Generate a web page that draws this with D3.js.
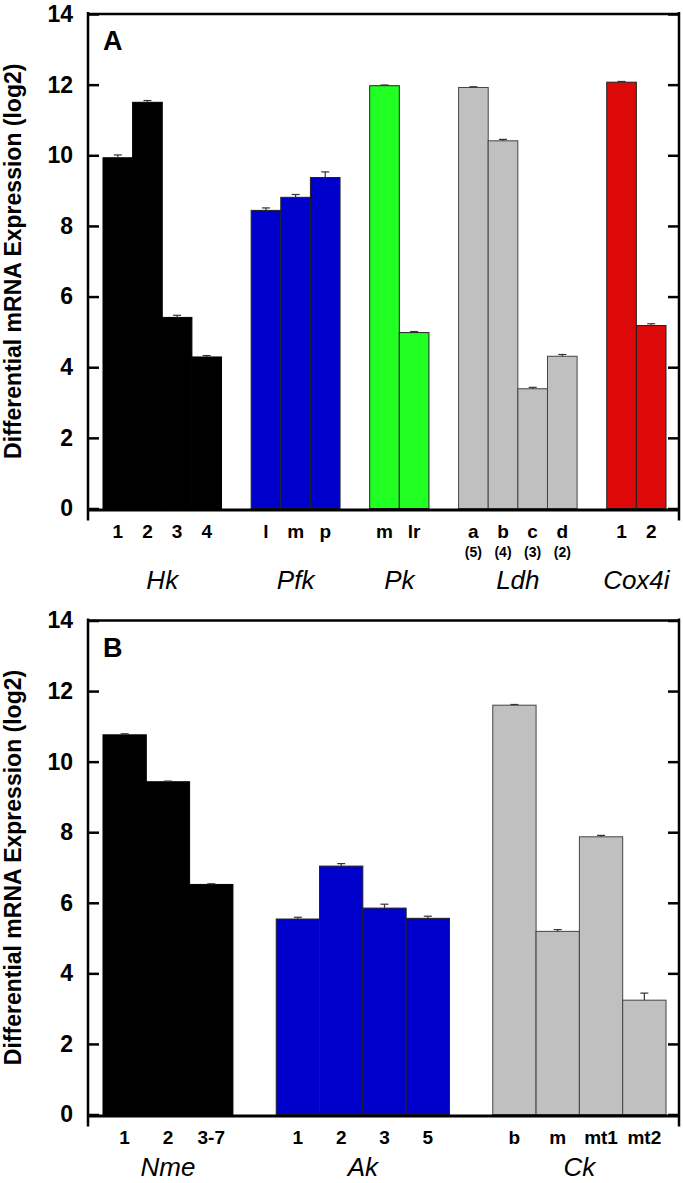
<!DOCTYPE html>
<html><head><meta charset="utf-8">
<script src="https://cdn.jsdelivr.net/npm/d3@7"></script>
<style>
html,body{margin:0;padding:0;background:#fff;}
svg{display:block;font-family:"Liberation Sans",Arial,sans-serif;}
</style></head>
<body>
<svg id="chart" width="683" height="1183"></svg>
<script>
// ---------- Panel A data ----------
const groupsA = ["Hk", "Pfk", "Pk", "Ldh", "Cox4i"];
const catsA = [["1","2","3","4"], ["l","m","p"], ["m","lr"], ["a","b","c","d"], ["1","2"]];
const subLabelsA = [[], [], [], ["(5)","(4)","(3)","(2)"], []];
const valuesA = [[9.93, 11.50, 5.41, 4.29], [8.44, 8.81, 9.37], [11.97, 4.98], [11.92, 10.41, 3.39, 4.31], [12.07, 5.18]];
const errorsA = [[0.08, 0.05, 0.06, 0.04], [0.07, 0.08, 0.16], [0.02, 0.03], [0.02, 0.04, 0.04, 0.05], [0.02, 0.05]];
const colorsA = ["#000000", "#0000CD", "#22FF22", "#C0C0C0", "#DD0808"];

// ---------- Panel B data ----------
const groupsB = ["Nme", "Ak", "Ck"];
const catsB = [["1","2","3-7"], ["1","2","3","5"], ["b","m","mt1","mt2"]];
const subLabelsB = [[], [], []];
const valuesB = [[10.76, 9.43, 6.52], [5.54, 7.04, 5.85, 5.56], [11.60, 5.19, 7.87, 3.24]];
const errorsB = [[0.03, 0.02, 0.02], [0.05, 0.07, 0.11, 0.06], [0.02, 0.05, 0.04, 0.20]];
const colorsB = ["#000000", "#0000CD", "#C0C0C0"];

const yTicks = [0, 2, 4, 6, 8, 10, 12, 14];
const yLabel = "Differential mRNA Expression (log2)";

const svg = d3.select("#chart");

function panel(cfg) {
  const {groups, cats, subs, values, errors, colors, letter, top, bottom} = cfg;
  const left = 88, right = 679;
  const slots = [];
  const bars = [];
  groups.forEach((g, gi) => {
    if (gi > 0) slots.push("gap" + gi);
    cats[gi].forEach((c, ci) => {
      const key = g + "_" + c;
      slots.push(key);
      bars.push({key, group: g, gi, label: c, sub: subs[gi][ci] || "",
                 value: values[gi][ci], err: errors[gi][ci], color: colors[gi]});
    });
  });
  const x = d3.scaleBand().domain(slots).range([left + 15, right - 13]).padding(0);
  const y = d3.scaleLinear().domain([0, 14]).range([bottom, top]);
  const g = svg.append("g");

  g.selectAll("rect.bar").data(bars).enter().append("rect")
    .attr("class", "bar")
    .attr("x", d => x(d.key))
    .attr("width", x.bandwidth())
    .attr("y", d => y(d.value))
    .attr("height", d => y(0) - y(d.value))
    .attr("fill", d => d.color)
    .attr("stroke", d => d.color === "#C0C0C0" ? "#444" : (d.color === "#000000" ? "#000" : "#222"))
    .attr("stroke-width", 1);

  const eb = g.selectAll("g.err").data(bars).enter().append("g")
    .attr("stroke", "#333").attr("stroke-width", 1.2);
  eb.append("line")
    .attr("x1", d => x(d.key) + x.bandwidth() / 2)
    .attr("x2", d => x(d.key) + x.bandwidth() / 2)
    .attr("y1", d => y(d.value)).attr("y2", d => y(d.value + d.err));
  eb.append("line")
    .attr("x1", d => x(d.key) + x.bandwidth() / 2 - 4)
    .attr("x2", d => x(d.key) + x.bandwidth() / 2 + 4)
    .attr("y1", d => y(d.value + d.err)).attr("y2", d => y(d.value + d.err));

  const ax = g.append("g").attr("transform", `translate(${left},0)`)
    .call(d3.axisLeft(y).tickValues(yTicks).tickSizeInner(-11).tickSizeOuter(0).tickPadding(15));
  ax.select(".domain").remove();
  ax.selectAll(".tick line").attr("stroke", "#000").attr("stroke-width", 2.5);
  ax.selectAll(".tick text").attr("font-size", 23).attr("font-weight", "bold").attr("fill", "#000")
    .attr("font-family", "'Liberation Sans', Arial, sans-serif");

  const axr = g.append("g").attr("transform", `translate(${right},0)`)
    .call(d3.axisRight(y).tickValues(yTicks).tickSizeInner(-11).tickSizeOuter(0).tickFormat(""));
  axr.select(".domain").remove();
  axr.selectAll(".tick line").attr("stroke", "#000").attr("stroke-width", 2.5);

  g.append("line").attr("x1", left).attr("x2", left).attr("y1", y(14) - 2).attr("y2", y(0) + 12)
    .attr("stroke", "#000").attr("stroke-width", 2.5);
  g.append("line").attr("x1", right).attr("x2", right).attr("y1", y(14) - 2).attr("y2", y(0) + 12)
    .attr("stroke", "#000").attr("stroke-width", 2.5);
  g.append("line").attr("x1", left).attr("x2", right).attr("y1", y(14)).attr("y2", y(14))
    .attr("stroke", "#000").attr("stroke-width", 2.5);
  g.append("line").attr("x1", left).attr("x2", right).attr("y1", y(0) + 1.5).attr("y2", y(0) + 1.5)
    .attr("stroke", "#000").attr("stroke-width", 3);

  g.selectAll("text.cat").data(bars).enter().append("text")
    .attr("x", d => x(d.key) + x.bandwidth() / 2)
    .attr("y", y(0) + 29)
    .attr("text-anchor", "middle")
    .attr("font-size", 19).attr("font-weight", "bold")
    .text(d => d.label);
  g.selectAll("text.sub").data(bars.filter(d => d.sub)).enter().append("text")
    .attr("x", d => x(d.key) + x.bandwidth() / 2)
    .attr("y", y(0) + 48)
    .attr("text-anchor", "middle")
    .attr("font-size", 14).attr("font-weight", "bold")
    .text(d => d.sub);

  groups.forEach((gname, gi) => {
    const first = x(groups[gi] + "_" + cats[gi][0]);
    const last = x(groups[gi] + "_" + cats[gi][cats[gi].length - 1]) + x.bandwidth();
    g.append("text")
      .attr("x", (first + last) / 2)
      .attr("y", y(0) + cfg.groupDy)
      .attr("text-anchor", "middle")
      .attr("font-size", 26).attr("font-style", "italic")
      .text(gname);
  });

  g.append("text").attr("x", left + 15).attr("y", y(14) + 36)
    .attr("font-size", 27).attr("font-weight", "bold").text(letter);

  g.append("text")
    .attr("transform", `translate(21,${(y(0) + y(14)) / 2}) rotate(-90)`)
    .attr("text-anchor", "middle")
    .attr("font-size", 23).attr("font-weight", "bold")
    .text(yLabel);
}

panel({groups: groupsA, cats: catsA, subs: subLabelsA, values: valuesA, errors: errorsA,
       colors: colorsA, letter: "A", top: 14, bottom: 508.5, groupDy: 80});
panel({groups: groupsB, cats: catsB, subs: subLabelsB, values: valuesB, errors: errorsB,
       colors: colorsB, letter: "B", top: 620.5, bottom: 1114.5, groupDy: 61});
</script>
</body></html>
